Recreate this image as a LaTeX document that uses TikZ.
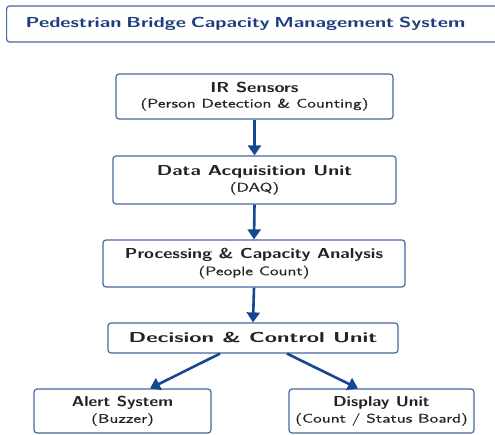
\documentclass[tikz,border=0pt]{standalone}
\usepackage{fontspec}
\usepackage{graphicx}
\usetikzlibrary{arrows.meta,calc}
\newfontfamily\mainf{Latin Modern Sans}[FakeStretch=1.27]
\newfontfamily\subf{Latin Modern Sans}[FakeStretch=1.42,FakeBold=0.4]
\newfontfamily\titlef{Latin Modern Sans}[FakeStretch=1.38]
\definecolor{boxline}{RGB}{70,105,160}
\definecolor{arrowc}{RGB}{22,72,145}
\definecolor{titlec}{RGB}{32,62,125}
\definecolor{textc}{RGB}{35,35,35}
\tikzset{
  blk/.style={draw=boxline, line width=1.2pt, rounded corners=3pt, fill=white, align=center, inner sep=0pt, text=textc},
  flow/.style={draw=arrowc, line width=2.6pt, -{Triangle[length=10pt,width=13pt]}},
}
\newcommand{\mainlbl}[2][1]{\scalebox{#1}[1]{\mainf\fontsize{14.4}{17}\selectfont\bfseries #2}}
\newcommand{\sublbl}[1]{{\subf\fontsize{12.5}{15}\selectfont #1}}
\begin{document}
\begin{tikzpicture}[x=1pt,y=-1pt]
\useasboundingbox (0,0) rectangle (495,435);
\begin{scope}
\clip (0,0) rectangle (495,435);
\node[blk, anchor=west, minimum height=36pt, text width=476pt, inner xsep=19pt, align=left, text=titlec,
      font=\titlef\bfseries\fontsize{14.5}{18}\selectfont] (title) at (6,24) {Pedestrian Bridge Capacity Management System};
\end{scope}
\node[blk, minimum width=277pt, minimum height=45pt] (ir) at (254.5,96.5) {\mainlbl{IR Sensors}\\[3pt]\sublbl{(Person Detection \& Counting)}};
\node[blk, minimum width=283pt, minimum height=48pt] (daq) at (254.5,180) {\mainlbl[1.07]{Data Acquisition Unit}\\[3pt]\sublbl{(DAQ)}};
\node[blk, minimum width=302pt, minimum height=47pt] (proc) at (254,263.5) {\mainlbl[0.98]{Processing \& Capacity Analysis}\\[3pt]\sublbl{(People Count)}};
\node[blk, minimum width=290pt, minimum height=30pt] (dec) at (253,338) {\mainlbl[1.22]{Decision \& Control Unit}};
\node[blk, minimum width=177pt, minimum height=44pt] (alert) at (122.5,411) {\mainlbl[0.93]{Alert System}\\[3pt]\sublbl{(Buzzer)}};
\node[blk, minimum width=185pt, minimum height=44pt] (disp) at (381.5,411) {\mainlbl[0.94]{Display Unit}\\[3pt]\sublbl{(Count / Status Board)}};
\draw[flow] (ir.south) -- (daq.north);
\draw[flow] (daq.south) -- (proc.north);
\draw[flow] (proc.south) -- (dec.north);
\draw[flow] ($(dec.south)+(-33,0)$) -- ($(alert.north)+(27.5,0)$);
\draw[flow] ($(dec.south)+(34,0)$) -- ($(disp.north)+(-23.5,0)$);
\end{tikzpicture}
\end{document}
